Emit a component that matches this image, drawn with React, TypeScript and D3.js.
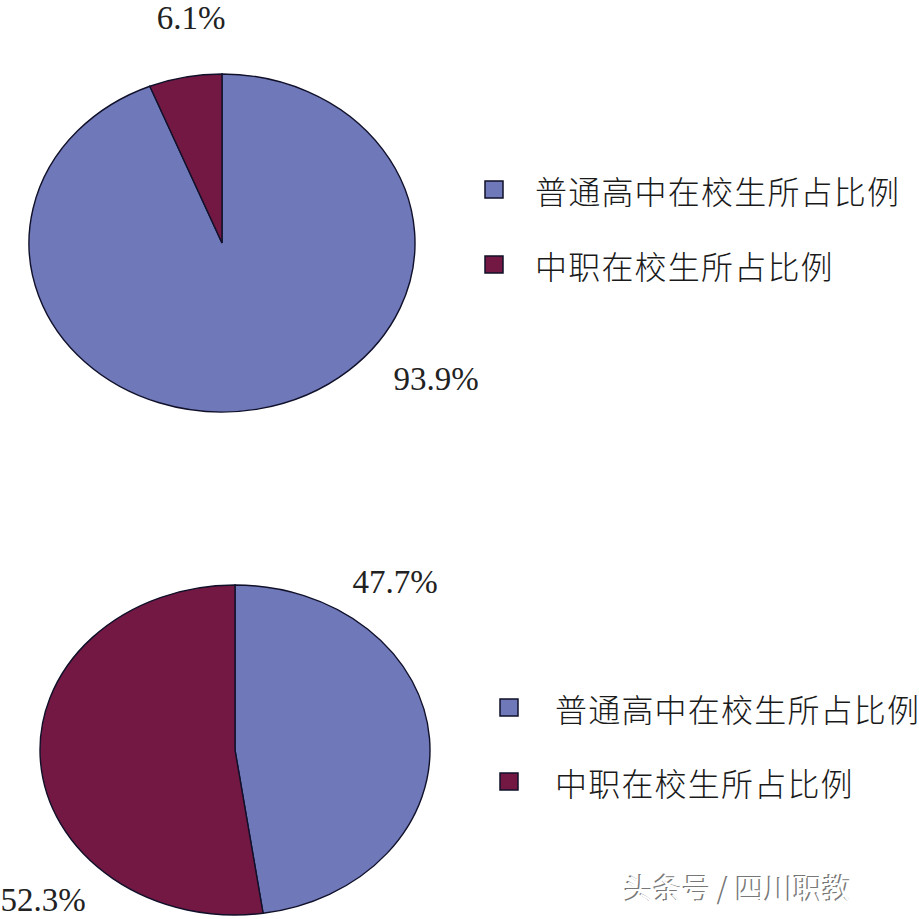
import React from 'react';
import * as d3 from 'd3';

// legend categories (same for both pies)
const categories = ['普通高中在校生所占比例', '中职在校生所占比例'];
// top pie: share of students, %
const shareTop = [93.9, 6.1];
// bottom pie
const shareBottom = [47.7, 52.3];
const colors = ['#6f78b8', '#721842'];
const watermark = '头条号 / 四川职教';

const W = 919;
const H = 919;

// layout of each pie block (positions only, no data)
const charts = [
  {
    values: shareTop,
    cx: 222, cy: 243, rx: 193, ry: 169,
    // label offsets from pie centre, per slice
    labelAt: [[214, 147], [-31, -214]],
    legendX: 485, legendY: [190, 265], textGap: 50,
  },
  {
    values: shareBottom,
    cx: 235, cy: 750, rx: 195, ry: 165,
    labelAt: [[160, -157], [-192, 161]],
    legendX: 500, legendY: [708, 782], textGap: 55,
  },
];

const PieBlock = ({ c }: { c: typeof charts[0] }) => {
  const pie = d3.pie<number>().sort(null).value((d) => d);
  const arcs = pie(c.values);
  const arc = d3.arc<d3.PieArcDatum<number>>().innerRadius(0).outerRadius(c.ry);
  const fmt = (v: number) => d3.format('.1f')(v) + '%';

  return (
    <g>
      <g transform={`translate(${c.cx},${c.cy}) scale(${c.rx / c.ry},1)`}>
        {arcs.map((a, i) => (
          <path
            key={i}
            d={arc(a) || ''}
            fill={colors[i]}
            stroke="#10102a"
            strokeWidth={1.4}
            vectorEffect="non-scaling-stroke"
          />
        ))}
      </g>
      {arcs.map((a, i) => (
        <text
          key={'l' + i}
          x={c.cx + c.labelAt[i][0]}
          y={c.cy + c.labelAt[i][1]}
          textAnchor="middle"
          fontFamily="'Liberation Serif', 'Times New Roman', serif"
          fontSize={33}
          fill="#222"
        >
          {fmt(a.data)}
        </text>
      ))}
      {categories.map((name, i) => (
        <g key={'lg' + i} transform={`translate(${c.legendX},${c.legendY[i]})`}>
          <rect x={0} y={-9} width={18} height={17} fill={colors[i]} stroke="#10102a" strokeWidth={1.5} />
          <text
            x={c.textGap}
            y={0}
            dominantBaseline="central"
            fontFamily="'Noto Sans CJK SC', sans-serif"
            fontWeight={300}
            fontSize={32}
            letterSpacing={1.2}
            fill="#1a1a1a"
          >
            {name}
          </text>
        </g>
      ))}
    </g>
  );
};

export default function App() {
  return (
    <svg
      width={W}
      height={H}
      style={{ position: 'absolute', left: 0, top: 0, background: '#fff' }}
    >
      <rect width={W} height={H} fill="#fff" />
      {charts.map((c, i) => (
        <PieBlock key={i} c={c} />
      ))}
      <g fontFamily="'Noto Sans CJK SC', sans-serif" fontSize={29}>
        <text x={623} y={899} fill="#777">{watermark}</text>
        <text x={624.5} y={900} fill="#fff">{watermark}</text>
      </g>
    </svg>
  );
}
